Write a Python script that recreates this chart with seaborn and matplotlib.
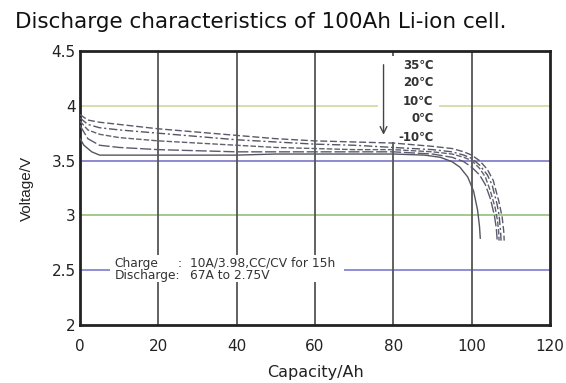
import matplotlib
matplotlib.use("Agg")
import matplotlib.pyplot as plt
from matplotlib.patches import Rectangle
import seaborn as sns
import pandas as pd

# ---- data ----
cap_35 = [0, 2, 5, 10, 20, 30, 40, 50, 60, 70, 80, 90, 95, 98, 100, 102, 104, 105.5, 107, 107.8, 108.2, 108.3]
v_35 = [3.92, 3.87, 3.85, 3.83, 3.79, 3.76, 3.73, 3.70, 3.68, 3.67, 3.66, 3.63, 3.61, 3.58, 3.55, 3.50, 3.42, 3.32, 3.12, 2.98, 2.85, 2.77]
cap_20 = [0, 2, 5, 10, 20, 30, 40, 50, 60, 70, 80, 90, 95, 98, 100, 102, 104, 105.2, 106.5, 107, 107.4, 107.5]
v_20 = [3.89, 3.83, 3.80, 3.78, 3.75, 3.72, 3.69, 3.67, 3.65, 3.64, 3.62, 3.60, 3.58, 3.55, 3.52, 3.46, 3.37, 3.28, 3.10, 3.00, 2.85, 2.77]
cap_10 = [0, 2, 5, 10, 20, 30, 40, 50, 60, 70, 80, 90, 95, 98, 100, 102, 103.5, 104.8, 106, 106.6, 106.9, 107]
v_10 = [3.86, 3.78, 3.74, 3.71, 3.68, 3.66, 3.64, 3.62, 3.61, 3.60, 3.60, 3.58, 3.56, 3.53, 3.50, 3.43, 3.35, 3.22, 3.07, 2.95, 2.85, 2.77]
cap_0 = [0, 2, 5, 10, 20, 30, 40, 50, 60, 70, 80, 90, 95, 98, 100, 102, 103.5, 104.8, 105.8, 106.3, 106.5]
v_0 = [3.82, 3.70, 3.64, 3.62, 3.60, 3.59, 3.58, 3.58, 3.58, 3.58, 3.58, 3.56, 3.53, 3.49, 3.44, 3.37, 3.28, 3.15, 3.00, 2.88, 2.78]
cap_m10 = [0, 1, 3, 5, 10, 20, 30, 40, 50, 60, 70, 80, 88, 92, 95, 97, 99, 100.5, 101.5, 102, 102.2]
v_m10 = [3.70, 3.64, 3.58, 3.55, 3.55, 3.55, 3.55, 3.55, 3.56, 3.56, 3.56, 3.56, 3.55, 3.53, 3.49, 3.44, 3.35, 3.22, 3.05, 2.90, 2.79]

temps = ["35℃", "20℃", "10℃", "0℃", "-10℃"]
x_ticks = [0, 20, 40, 60, 80, 100, 120]
y_ticks = [2, 2.5, 3, 3.5, 4, 4.5]
y_tick_labels = ["2", "2.5", "3", "3.5", "4", "4.5"]
title = "Discharge characteristics of 100Ah Li-ion cell."
note_keys = ["Charge", "Discharge:"]
note_vals = ["10A/3.98,CC/CV for 15h", "67A to 2.75V"]

series = [(cap_35, v_35), (cap_20, v_20), (cap_10, v_10), (cap_0, v_0), (cap_m10, v_m10)]

sns.set_theme(style="white")
plt.rcParams["font.family"] = ["DejaVu Sans"]

fig = plt.figure(figsize=(5.66, 3.83), dpi=100)
ax = fig.add_axes([80 / 566, 1 - 325 / 383, 470 / 566, 274 / 383])

# grid
hcolors = {2.5: "#7d7ad0", 3.0: "#92bf7c", 3.5: "#7b74c6", 4.0: "#d2d89c"}
for yv, c in hcolors.items():
    ax.axhline(yv, color=c, lw=1.2, zorder=1)
for xv in x_ticks[1:-1]:
    ax.axvline(xv, color="#555555", lw=1.3, zorder=1)

styles = [(0, (5, 2)), (0, (6, 2, 1.5, 2)), (0, (4, 1.5)), (0, (8, 2)), "-"]
colors = ["#5a5a6a", "#555566", "#606070", "#5a5a72", "#55555f"]
for (cx, cy), t, ls, c in zip(series, temps, styles, colors):
    df = pd.DataFrame({"cap": cx, "v": cy})
    sns.lineplot(data=df, x="cap", y="v", ax=ax, sort=False, estimator=None,
                 color=c, lw=1.0, linestyle=ls, zorder=3)

# white box behind legend labels
ax.add_patch(Rectangle((76.2, 3.67), 15.5, 0.78, facecolor="white", edgecolor="none", zorder=2))
for t, yy in zip(temps, [4.37, 4.21, 4.04, 3.88, 3.71]):
    ax.text(90.3, yy, t, ha="right", va="center", fontsize=8.5, color="#333333",
            fontweight="bold", zorder=4)
ax.annotate("", xy=(77.5, 3.71), xytext=(77.5, 4.40),
            arrowprops=dict(arrowstyle="->", color="#444444", lw=1.0), zorder=4)

# note box
ax.add_patch(Rectangle((7.6, 2.39), 59.9, 0.25, facecolor="white", edgecolor="none", zorder=2))
for k, v, yy in zip(note_keys, note_vals, [2.565, 2.456]):
    ax.text(8.9, yy, k, ha="left", va="center", fontsize=8.8, color="#333333", zorder=4)
    ax.text(28.0, yy, v, ha="left", va="center", fontsize=8.8, color="#333333", zorder=4)
ax.text(25.0, 2.565, ":", ha="left", va="center", fontsize=8.8, color="#333333", zorder=4)

ax.set_xlim(0, 119.7)
ax.set_ylim(2, 4.5)
ax.set_xticks(x_ticks)
ax.set_yticks(y_ticks)
ax.set_yticklabels(y_tick_labels)
ax.tick_params(axis="both", length=0, labelsize=11, colors="#222222")
ax.tick_params(axis="x", pad=10)
ax.tick_params(axis="y", pad=3)
ax.set_xlabel("Capacity/Ah", fontsize=11.5, color="#222222", labelpad=8)
ax.set_ylabel("Voltage/V", fontsize=11, color="#222222", labelpad=13,
              family="Liberation Sans")
for s in ax.spines.values():
    s.set_visible(True)
    s.set_color("#222222")
    s.set_linewidth(2)

fig.text(15 / 566, 1 - 28 / 383, title, ha="left", va="baseline", fontsize=15.5, color="#111111")

fig.savefig("out.png", dpi=100, facecolor="white")
